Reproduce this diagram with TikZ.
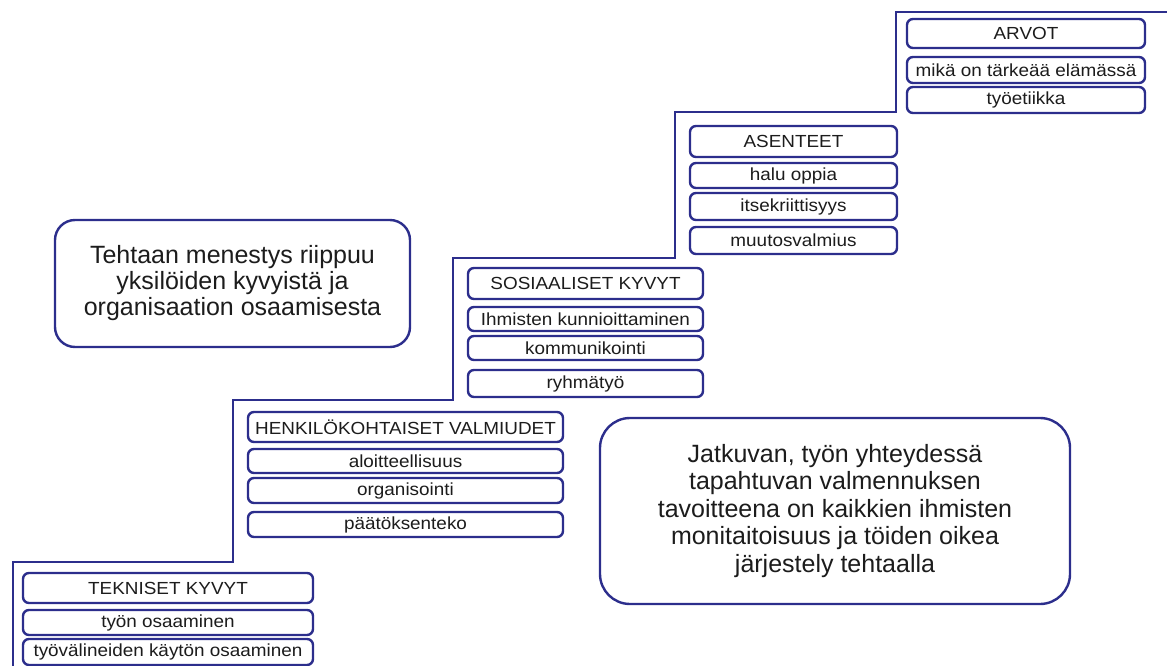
\documentclass[tikz,border=0pt]{standalone}
\usepackage{fontspec}
\setmainfont{Liberation Sans}
\newfontfamily\cellfont{Liberation Sans}[FakeStretch=1.08]
\definecolor{navy}{RGB}{44,46,140}
\definecolor{ink}{RGB}{28,28,28}
\tikzset{
  x=1pt, y=-1pt,
  cell/.style={draw=navy, line width=2.4pt, rounded corners=6pt, fill=white,
    inner sep=0pt, text=ink, font=\cellfont\fontsize{17.5}{20}\selectfont,
    align=center},
  note/.style={draw=navy, line width=2.4pt, fill=white, inner sep=0pt,
    text=ink, align=center},
  stair/.style={draw=navy, line width=2.4pt, line join=miter}
}
\begin{document}
\begin{tikzpicture}
\useasboundingbox (0,0) rectangle (1169,666);

% staircase
\draw[stair] (13,666) -- (13,562) -- (233,562) -- (233,400) -- (453,400)
  -- (453,258) -- (675,258) -- (675,112) -- (896,112) -- (896,12) -- (1167,12);

% step 1
\node[cell, minimum width=290pt, minimum height=30pt] (t0) at (168,588) {TEKNISET KYVYT};
\node[cell, minimum width=290pt, minimum height=25pt] (t1) at (168,622.5) {työn osaaminen};
\node[cell, minimum width=290pt, minimum height=26pt] (t2) at (168,652) {työvälineiden käytön osaaminen};

% step 2
\node[cell, minimum width=315pt, minimum height=30pt] (h0) at (405.5,427) {HENKILÖKOHTAISET VALMIUDET};
\node[cell, minimum width=315pt, minimum height=24pt] (h1) at (405.5,461) {aloitteellisuus};
\node[cell, minimum width=315pt, minimum height=25pt] (h2) at (405.5,490.5) {organisointi};
\node[cell, minimum width=315pt, minimum height=25pt] (h3) at (405.5,524.5) {päätöksenteko};

% step 3
\node[cell, minimum width=235pt, minimum height=31pt] (s0) at (585.5,283.5) {SOSIAALISET KYVYT};
\node[cell, minimum width=235pt, minimum height=24pt] (s1) at (585.5,319) {Ihmisten kunnioittaminen};
\node[cell, minimum width=235pt, minimum height=24pt] (s2) at (585.5,348) {kommunikointi};
\node[cell, minimum width=235pt, minimum height=27pt] (s3) at (585.5,383.5) {ryhmätyö};

% step 4
\node[cell, minimum width=207pt, minimum height=31pt] (a0) at (793.5,141.5) {ASENTEET};
\node[cell, minimum width=207pt, minimum height=25pt] (a1) at (793.5,175.5) {halu oppia};
\node[cell, minimum width=207pt, minimum height=27pt] (a2) at (793.5,206.5) {itsekriittisyys};
\node[cell, minimum width=207pt, minimum height=27pt] (a3) at (793.5,240.5) {muutosvalmius};

% step 5
\node[cell, minimum width=238pt, minimum height=29pt] (v0) at (1026,33.5) {ARVOT};
\node[cell, minimum width=238pt, minimum height=26pt] (v1) at (1026,70) {mikä on tärkeää elämässä};
\node[cell, minimum width=238pt, minimum height=26pt] (v2) at (1026,100) {työetiikka};

% statements
\node[note, rounded corners=20pt, minimum width=355pt, minimum height=127pt,
  font=\fontsize{25}{26}\selectfont] (n1) at (232.5,283.5)
  {Tehtaan menestys riippuu\\ yksilöiden kyvyistä ja\\ organisaation osaamisesta};
\node[note, rounded corners=30pt, minimum width=470pt, minimum height=186pt,
  font=\fontsize{25}{27.5}\selectfont] (n2) at (835,511)
  {Jatkuvan, työn yhteydessä\\ tapahtuvan valmennuksen\\ tavoitteena on kaikkien ihmisten\\ monitaitoisuus ja töiden oikea\\ järjestely tehtaalla};
\end{tikzpicture}
\end{document}
